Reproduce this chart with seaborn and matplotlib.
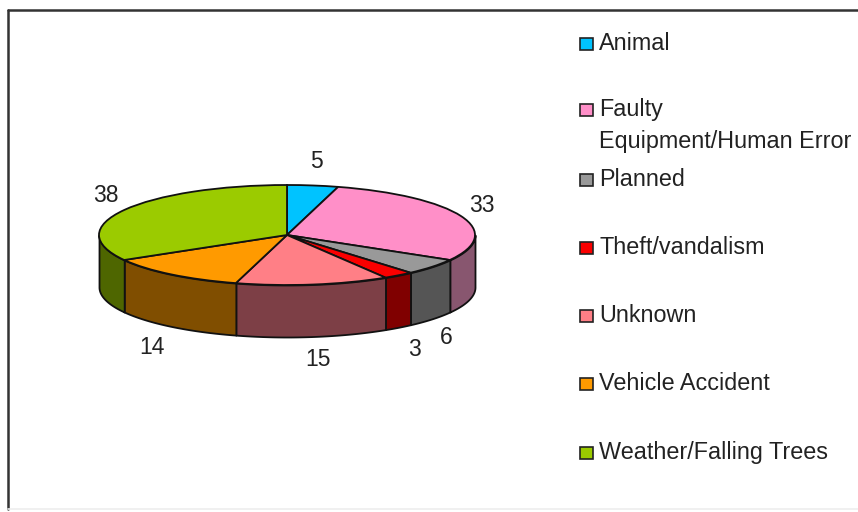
import numpy as np
import matplotlib
matplotlib.use("Agg")
import matplotlib.pyplot as plt
from matplotlib.patches import Rectangle
import seaborn as sns

categories = ["Animal", "Faulty\nEquipment/Human Error", "Planned", "Theft/vandalism",
              "Unknown", "Vehicle Accident", "Weather/Falling Trees"]
values = [5, 33, 6, 3, 15, 14, 38]
top_colors = ["#00c3ff", "#ff8fc8", "#999999", "#fa0000", "#ff7f86", "#ff9a00", "#9bcb00"]
side_colors = ["#006080", "#88566f", "#555555", "#800000", "#7d3f46", "#804e00", "#4e6600"]

sns.set_theme(style="white")
plt.rcParams["font.family"] = ["Liberation Sans", "DejaVu Sans"]

W, H = 858, 512
CX, CY, RX, RY, DEPTH = 287, 235, 188, 50, 52
TEXT = "#222222"

fig = plt.figure(figsize=(W / 100, H / 100), dpi=100, facecolor="white")

# Pixel-coordinate overlay for frame, labels and legend
px = fig.add_axes([0, 0, 1, 1], zorder=3)
px.set_xlim(0, W)
px.set_ylim(H, 0)
px.axis("off")
px.patch.set_alpha(0)

# Pie axes: unit pie squashed to an ellipse
ax = fig.add_axes([0, 0, 1, 1], zorder=2)
ax.pie(values, colors=top_colors, startangle=90, counterclock=False,
       wedgeprops=dict(edgecolor="#111111", linewidth=1.3))
ax.set_aspect("auto")
ax.set_xlim(-CX / RX, (W - CX) / RX)
ax.set_ylim(-(H - CY) / RY, CY / RY)
ax.axis("off")

# Side walls: the front half of each slice extruded downward
edges = np.cumsum([0] + values) / sum(values) * 2 * np.pi
d = DEPTH / RY
for i in range(len(values)):
    a0, a1 = max(edges[i], np.pi / 2), min(edges[i + 1], 3 * np.pi / 2)
    if a1 <= a0:
        continue
    t = np.linspace(a0, a1, 60)
    x, y = np.sin(t), np.cos(t)
    ax.fill_between(x, y, y - d, facecolor=side_colors[i], edgecolor="#111111",
                    linewidth=1.3, zorder=0.5)

# Frame (left and top only, as visible in the source)
px.plot([8, 8], [H - 3, 10], color="#333333", lw=1.8)
px.plot([8, W], [10, 10], color="#333333", lw=1.8)
px.plot([8, W], [508.5, 508.5], color="#eeeeee", lw=1.2)

# Data labels
label_xy = [(316, 162), (482, 205), (446, 337), (414, 350), (318, 359), (152, 348), (106, 196)]
for v, (lx, ly) in zip(values, label_xy):
    px.text(lx, ly, str(v), ha="center", va="center", fontsize=16.5, color=TEXT)

# Legend
legend_y = [44, 110, 180, 248, 316, 384, 453]
for name, c, ly in zip(categories, top_colors, legend_y):
    px.add_patch(Rectangle((580, ly - 6), 13, 12, facecolor=c, edgecolor="#222222", lw=1.2))
    px.text(599, ly - 12, name, ha="left", va="top", fontsize=16.8, color=TEXT, linespacing=1.5)

fig.savefig("out.png", dpi=100)
